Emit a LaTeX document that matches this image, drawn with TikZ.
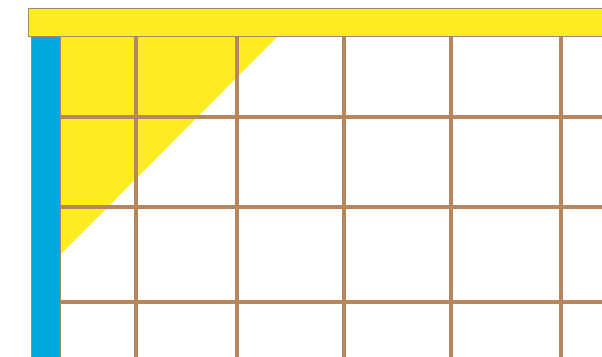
\documentclass[tikz,border=0pt]{standalone}
\usetikzlibrary{calc}
\definecolor{gridbrown}{RGB}{184,134,92}
\definecolor{barblue}{RGB}{0,169,224}
\definecolor{baryellow}{RGB}{255,236,32}
\definecolor{edgegray}{RGB}{150,140,110}
\tikzset{
  gridline/.style={draw=gridbrown, line width=3.5pt},
  barbox/.style={draw=edgegray, line width=0.8pt},
}
\begin{document}
\begin{tikzpicture}[x=1pt,y=-1pt]
\useasboundingbox (0,0) rectangle (602,356);
% yellow triangle
\fill[baryellow] (60,36) -- (278,36) -- (60,255) -- cycle;
% grid
\foreach \x in {136,237,344,451,561} {
  \draw[gridline] (\x,36) -- (\x,358);
}
\foreach \y in {117,207,302} {
  \draw[gridline] (60,\y) -- (604,\y);
}
% blue bar
\filldraw[barbox, fill=barblue] (31,36) rectangle (60,360);
% top bar
\filldraw[barbox, fill=baryellow] (28,8) rectangle (606,36);
\end{tikzpicture}
\end{document}
